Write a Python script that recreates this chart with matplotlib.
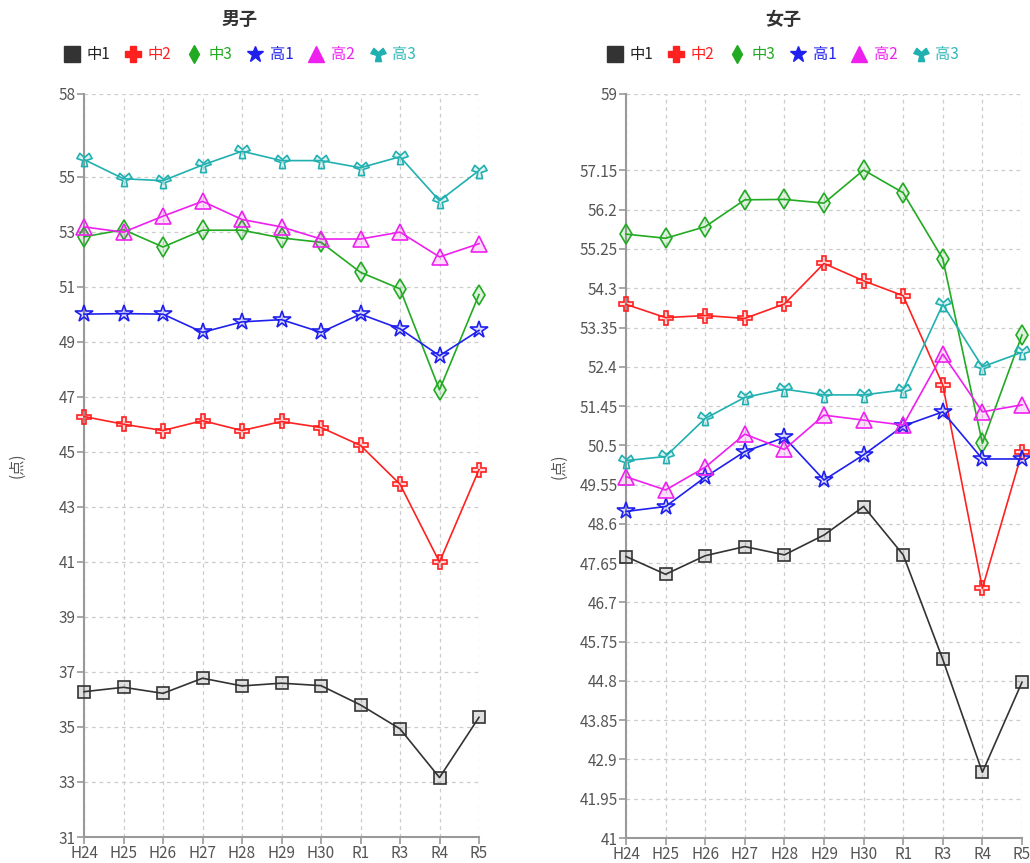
import numpy as np
import matplotlib
matplotlib.use('Agg')
import matplotlib.pyplot as plt
from matplotlib.lines import Line2D
from matplotlib.path import Path
from matplotlib.colors import to_rgba

plt.rcParams['font.family'] = ['Noto Sans CJK JP', 'DejaVu Sans']

years = ['H24', 'H25', 'H26', 'H27', 'H28', 'H29', 'H30', 'R1', 'R3', 'R4', 'R5']
series_names = ['中1', '中2', '中3', '高1', '高2', '高3']

# 男子
boys_c1 = [36.28, 36.44, 36.22, 36.77, 36.49, 36.59, 36.50, 35.80, 34.93, 33.16, 35.35]
boys_c2 = [46.28, 46.00, 45.77, 46.13, 45.77, 46.10, 45.88, 45.23, 43.82, 40.99, 44.35]
boys_c3 = [52.81, 53.07, 52.44, 53.05, 53.05, 52.77, 52.61, 51.52, 50.92, 47.25, 50.71]
boys_h1 = [50.00, 50.02, 50.00, 49.34, 49.72, 49.80, 49.34, 50.00, 49.47, 48.49, 49.41]
boys_h2 = [53.17, 52.98, 53.56, 54.10, 53.44, 53.17, 52.73, 52.73, 52.98, 52.08, 52.56]
boys_h3 = [55.62, 54.92, 54.85, 55.42, 55.92, 55.58, 55.58, 55.32, 55.72, 54.12, 55.22]

# 女子
girls_c1 = [47.81, 47.38, 47.83, 48.05, 47.85, 48.33, 49.02, 47.85, 45.32, 42.59, 44.77]
girls_c2 = [53.91, 53.59, 53.64, 53.57, 53.92, 54.90, 54.48, 54.12, 51.96, 47.04, 50.33]
girls_c3 = [55.61, 55.51, 55.79, 56.44, 56.45, 56.36, 57.16, 56.61, 55.01, 50.55, 53.17]
girls_h1 = [48.90, 49.02, 49.73, 50.35, 50.69, 49.66, 50.27, 50.97, 51.31, 50.17, 50.17]
girls_h2 = [49.74, 49.42, 49.97, 50.77, 50.40, 51.23, 51.11, 50.99, 52.71, 51.31, 51.48]
girls_h3 = [50.13, 50.23, 51.15, 51.66, 51.86, 51.72, 51.72, 51.84, 53.91, 52.40, 52.75]

boys_yticks = [31, 33, 35, 37, 39, 41, 43, 45, 47, 49, 51, 53, 55, 58]
girls_yticks = [41, 41.95, 42.9, 43.85, 44.8, 45.75, 46.7, 47.65, 48.6, 49.55,
                50.5, 51.45, 52.4, 53.35, 54.3, 55.25, 56.2, 57.15, 59]

colors = ['#333333', '#ff2020', '#22aa22', '#2020ee', '#ee20ee', '#20b0b0']
text_colors = ['#222222', '#ff2020', '#22aa22', '#2020ee', '#ee20ee', '#30b8b8']


def y_marker(w=0.42, inner=0.28):
    # thick "Y": two arms up, one stem down
    angles = [30, 150, 270]
    pts = []
    for i, a in enumerate(angles):
        t = np.deg2rad(a)
        d = np.array([np.cos(t), np.sin(t)])
        p = np.array([-d[1], d[0]])
        pts.append(tuple(d - p * w))
        pts.append(tuple(d + p * w))
        b = np.deg2rad(a + 60)
        pts.append((inner * np.cos(b), inner * np.sin(b)))
    pts.append(pts[0])
    return Path(pts, closed=True)


markers = ['s', 'P', 'd', '*', '^', y_marker()]
msizes = [9, 10, 10, 13, 11, 11]
leg_sizes = [11, 11, 9, 12, 12, 11]


def draw_panel(ax, data, yticks, ylim, title, cx):
    x = np.arange(len(years))
    for vals, c, m, ms in zip(data, colors, markers, msizes):
        ax.plot(x, vals, color=c, linewidth=1.2, marker=m, markersize=ms,
                markerfacecolor=to_rgba(c, 0.15), markeredgecolor=c,
                markeredgewidth=1.2, clip_on=False, zorder=3)
    ax.set_xlim(0, 10)
    ax.set_ylim(*ylim)
    ax.set_xticks(x)
    ax.set_xticklabels(years)
    ax.set_yticks(yticks)
    ax.set_yticklabels([f'{round(v, 2):g}' for v in yticks])
    ax.grid(True, color='#cccccc', linestyle=(0, (3, 3)), linewidth=0.9)
    ax.set_axisbelow(True)
    for s in ['top', 'right']:
        ax.spines[s].set_visible(False)
    for s in ['left', 'bottom']:
        ax.spines[s].set_color('#999999')
        ax.spines[s].set_linewidth(1.5)
    ax.tick_params(colors='#999999', labelcolor='#555555', labelsize=11,
                   length=5, width=1.2, pad=1)
    ax.set_ylabel('(点)', fontsize=11, color='#555555')
    ax.yaxis.set_label_coords(-0.148, 0.5)

    handles = [Line2D([], [], linestyle='none', marker=m, color=c, markersize=ls,
                      markeredgecolor=c)
               for c, m, ls in zip(colors, markers, leg_sizes)]
    leg = fig.legend(handles, series_names, loc='center',
                     bbox_to_anchor=(cx / 1030, 1 - 55 / 863),
                     ncol=6, frameon=False, fontsize=11, handlelength=1.0,
                     handletextpad=0.45, columnspacing=1.0)
    for t, c in zip(leg.get_texts(), text_colors):
        t.set_color(c)
    fig.text(cx / 1030, 1 - 19 / 863, title, ha='center', va='center',
             fontsize=13, fontweight='bold', color='#333333')


fig = plt.figure(figsize=(10.30, 8.63), dpi=100)
ax1 = fig.add_axes([84 / 1030, 1 - 837 / 863, (479 - 84) / 1030, (837 - 94) / 863])
ax2 = fig.add_axes([626 / 1030, 1 - 838 / 863, (1022 - 626) / 1030, (838 - 94) / 863])

draw_panel(ax1, [boys_c1, boys_c2, boys_c3, boys_h1, boys_h2, boys_h3],
           boys_yticks, (31, 58), '男子', 240)
draw_panel(ax2, [girls_c1, girls_c2, girls_c3, girls_h1, girls_h2, girls_h3],
           girls_yticks, (41, 59), '女子', 783)

fig.savefig('out.png', dpi=100)
